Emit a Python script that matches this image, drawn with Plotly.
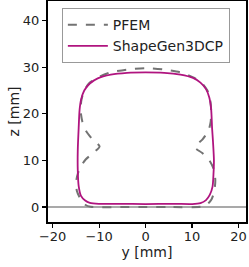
import plotly.graph_objects as go

# PFEM contour (y, z) in mm, closed path
pfem_y = [0, 6, 11.8, 13.2, 14.2, 14.8, 15.0, 14.6, 13.6, 12.2, 10.6,
          12.3, 13.5, 14.0, 14.1, 13.9, 13.3, 12.2, 10.5, 7.5, 4, 0,
          -4, -7.5, -10.5, -12.2, -13.2, -13.8, -14.0, -13.6, -12.8, -11.5, -9.9,
          -11.3, -12.9, -14.2, -14.9, -14.8, -14.0, -13.0, -11.8, -6, 0]
pfem_z = [0, 0, 0.05, 0.5, 1.7, 3.5, 5.8, 8.3, 10.2, 11.6, 12.8,
          14.6, 16.3, 18.3, 20.8, 23.0, 25.0, 26.5, 27.7, 28.9, 29.5, 29.8,
          29.5, 28.9, 27.7, 26.5, 25.0, 23.0, 20.8, 18.3, 16.3, 14.6, 13.0,
          11.6, 10.2, 8.3, 5.8, 3.5, 1.7, 0.5, 0.05, 0, 0]

# ShapeGen3DCP contour (y, z) in mm, closed path
sg_y = [0, 6, 10, 11.8, 13.0, 13.8, 14.4, 14.6, 14.7, 14.5, 14.3, 14.1, 13.7, 13.0,
        11.8, 10.2, 7.5, 4, 0, -4, -7.5, -10.3, -12.0, -13.2, -13.9, -14.2, -14.4,
        -14.6, -14.6, -14.4, -13.9, -13.0, -12.0, -10, -6, 0]
sg_z = [0.65, 0.7, 0.65, 0.85, 1.5, 2.6, 4.4, 7, 10, 14, 17, 21, 23.5, 25.3,
        26.7, 27.7, 28.4, 28.8, 28.9, 28.8, 28.4, 27.6, 26.5, 25.0, 23.0, 20.9, 17,
        12, 8, 4.5, 2.4, 1.4, 0.9, 0.7, 0.7, 0.65]

x_ticks = [-20, -10, 0, 10, 20]
y_ticks = [0, 10, 20, 30, 40]

font = "DejaVu Sans"
fig = go.Figure()
fig.add_hline(y=0, line=dict(color="#8c8c8c", width=1.5), layer="below")
fig.add_trace(go.Scatter(x=pfem_y, y=pfem_z, mode="lines", name="PFEM",
                         line=dict(color="#737373", width=2, dash="dash",
                                   shape="spline", smoothing=0.6)))
fig.add_trace(go.Scatter(x=sg_y, y=sg_z, mode="lines", name="ShapeGen3DCP",
                         line=dict(color="#b0147f", width=1.8,
                                   shape="spline", smoothing=0.8)))

axis_common = dict(showline=True, linecolor="black", linewidth=2, mirror=True,
                   ticks="outside", ticklen=4, tickwidth=1.2, tickcolor="black",
                   showgrid=False, zeroline=False, automargin=False,
                   tickfont=dict(family=font, size=13, color="#222"))
fig.update_xaxes(range=[-21, 21.6], tickvals=x_ticks, ticklabelstandoff=-3,
                 title=dict(text="y [mm]", font=dict(family=font, size=14, color="#222"),
                            standoff=0), **axis_common)
fig.update_yaxes(range=[-3.2, 44.2], tickvals=y_ticks,
                 title=dict(text="z [mm]", font=dict(family=font, size=14, color="#222"),
                            standoff=0), **axis_common)

fig.update_layout(
    width=249, height=267,
    margin=dict(l=48, r=3, t=1, b=45),
    plot_bgcolor="white", paper_bgcolor="white",
    font=dict(family=font, size=13, color="#222"),
    legend=dict(x=0.07, y=0.968, xanchor="left", yanchor="top",
                bgcolor="white", bordercolor="#999999", borderwidth=1,
                font=dict(family=font, size=14), tracegroupgap=0,
                itemwidth=40),
)
fig.write_html("out.html", config={"displayModeBar": False, "staticPlot": True},
               post_script="document.body.style.margin='0';document.body.style.overflow='hidden';")
